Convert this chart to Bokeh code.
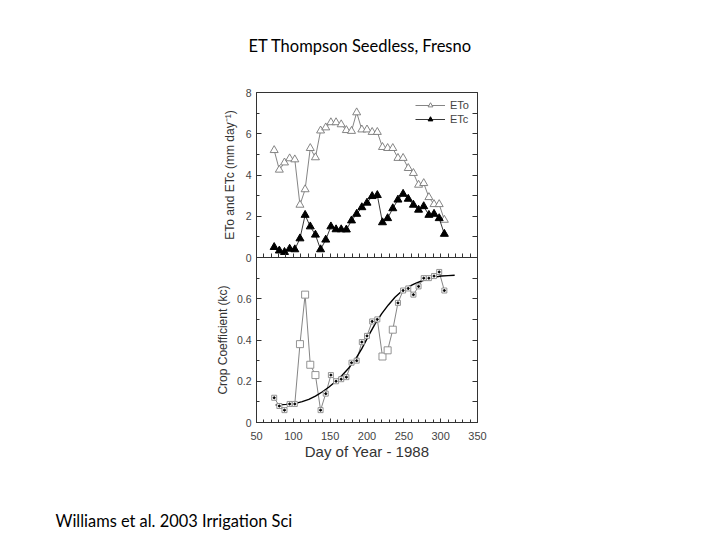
from bokeh.plotting import figure
from bokeh.models import Range1d, LinearAxis, FixedTicker, Title
from bokeh.layouts import column
from bokeh.embed import file_html
from bokeh.resources import INLINE

# ---- data ----
days = [74, 81, 88, 95, 102, 109, 116, 123, 130, 137, 144, 151, 158, 165, 172, 179, 186,
        193, 200, 207, 214, 221, 228, 235, 242, 249, 256, 263, 270, 277, 284, 291, 298, 305]
eto = [5.2, 4.25, 4.6, 4.8, 4.75, 2.55, 3.3, 5.3, 4.85, 6.15, 6.3, 6.55, 6.55, 6.45, 6.17, 6.13, 7.03,
       6.2, 6.2, 6.08, 6.08, 5.35, 5.3, 5.3, 4.82, 4.82, 4.33, 4.09, 3.52, 3.6, 2.92, 2.58, 2.58, 1.82]
etc = [0.5, 0.33, 0.26, 0.42, 0.39, 0.92, 2.06, 1.5, 1.1, 0.39, 0.86, 1.5, 1.36, 1.36, 1.35, 1.79, 2.11,
       2.43, 2.65, 2.97, 3.02, 1.7, 1.9, 2.38, 2.8, 3.08, 2.84, 2.55, 2.31, 2.48, 2.06, 2.11, 1.9, 1.14]
kc = [0.12, 0.08, 0.06, 0.09, 0.09, 0.38, 0.62, 0.28, 0.23, 0.06, 0.14, 0.23, 0.2, 0.21, 0.22, 0.29, 0.3,
      0.39, 0.42, 0.49, 0.5, 0.32, 0.35, 0.45, 0.58, 0.64, 0.65, 0.62, 0.66, 0.7, 0.7, 0.71, 0.73, 0.64]
outlier_idx = [5, 6, 7, 8, 21, 22, 23]

curve_day = [76, 90, 103, 112, 121, 130, 139, 148, 157, 166, 175, 184, 193, 202, 211, 220, 229,
             238, 247, 256, 265, 274, 283, 292, 301, 310, 319]
curve_kc = [0.085, 0.088, 0.093, 0.101, 0.112, 0.128, 0.148, 0.171, 0.198, 0.228, 0.263, 0.305, 0.358,
            0.42, 0.478, 0.528, 0.57, 0.607, 0.636, 0.657, 0.673, 0.686, 0.697, 0.705, 0.71, 0.712, 0.714]

x_ticks = [50, 100, 150, 200, 250, 300, 350]
x_minor = [60, 70, 80, 90, 110, 120, 130, 140, 160, 170, 180, 190, 210, 220, 230, 240,
           260, 270, 280, 290, 310, 320, 330, 340]
top_y_ticks = [0, 2, 4, 6, 8]
top_y_minor = [1, 3, 5, 7]
bot_y_ticks = [0, 0.2, 0.4, 0.6]
bot_y_minor = [0.1, 0.3, 0.5, 0.7]

title_text = "ET Thompson Seedless, Fresno"
footer_text = "Williams et al. 2003 Irrigation Sci"

FONT = "Liberation Sans"
SLIDE_FONT = "Lato"
W = 712
AX = "#333333"


def style_axis(ax):
    ax.major_tick_in = 5
    ax.major_tick_out = 0
    ax.minor_tick_in = 3
    ax.minor_tick_out = 0
    ax.axis_line_color = AX
    ax.major_tick_line_color = AX
    ax.minor_tick_line_color = AX
    ax.major_label_text_font = FONT
    ax.major_label_text_color = "#444444"
    ax.major_label_text_font_size = "10.5px"
    ax.major_label_standoff = 5
    ax.axis_label_text_font = FONT
    ax.axis_label_text_font_style = "normal"
    ax.axis_label_text_color = "#333333"


def bare_axis(ax, length=4):
    # axis that only shows tick marks (all as minor ticks, so no labels)
    ax.major_tick_in = 0
    ax.major_tick_out = 0
    ax.minor_tick_in = length
    ax.minor_tick_out = 0
    ax.axis_line_color = AX
    ax.minor_tick_line_color = AX
    ax.major_label_standoff = 0


# ---------------- top panel ----------------
top = figure(width=W, height=265, x_range=Range1d(50, 350), y_range=Range1d(0, 8),
             output_backend="svg", toolbar_location=None, title=title_text,
             min_border_left=256, min_border_right=235, min_border_top=92, min_border_bottom=8)
top.title.align = "left"
top.title.offset = -8
top.title.vertical_align = "top"
top.title.standoff = 70
top.title.text_font = SLIDE_FONT
top.title.text_font_size = "16.5px"
top.title.text_font_style = "normal"
top.title.text_color = "black"

top.xgrid.visible = False
top.ygrid.visible = False
top.outline_line_color = AX
top.outline_line_width = 1

top.xaxis.ticker = FixedTicker(ticks=[], minor_ticks=x_ticks + x_minor)
bare_axis(top.xaxis[0], 4)
top.yaxis.ticker = FixedTicker(ticks=top_y_ticks, minor_ticks=top_y_minor)
style_axis(top.yaxis[0])
top.yaxis.axis_label = "ETo and ETc (mm day\u207b\u00b9)"
top.yaxis.axis_label_text_font_size = "12px"
top.yaxis.axis_label_standoff = 6

r_top = LinearAxis(ticker=FixedTicker(ticks=[], minor_ticks=top_y_ticks + top_y_minor))
bare_axis(r_top, 5)
top.add_layout(r_top, "right")

top.line(days, eto, line_color="#777777", line_width=0.9, legend_label="ETo")
top.scatter(days, eto, marker="triangle", size=8, fill_color="white", line_color="#777777",
            line_width=0.9, legend_label="ETo")
top.line(days, etc, line_color="#222222", line_width=0.9, legend_label="ETc")
top.scatter(days, etc, marker="triangle", size=8, fill_color="black", line_color="black",
            legend_label="ETc")

lg = top.legend[0]
lg.location = "top_right"
lg.background_fill_alpha = 0
lg.border_line_alpha = 0
lg.label_text_font = FONT
lg.label_text_font_size = "11px"
lg.label_text_color = "#444444"
lg.glyph_width = 30
lg.glyph_height = 12
lg.spacing = 2
lg.padding = 3
lg.margin = 4

# ---------------- bottom panel ----------------
bot = figure(width=W, height=243, x_range=top.x_range, y_range=Range1d(0, 0.8),
             output_backend="svg", toolbar_location=None,
             min_border_left=256, min_border_right=235, min_border_top=0, min_border_bottom=78,
             margin=(-8, 0, 0, 0))
bot.border_fill_alpha = 0
bot.background_fill_alpha = 0
bot.xgrid.visible = False
bot.ygrid.visible = False
bot.outline_line_color = AX
bot.outline_line_width = 1

bot.xaxis.ticker = FixedTicker(ticks=x_ticks, minor_ticks=x_minor)
style_axis(bot.xaxis[0])
bot.xaxis.major_tick_in = 4
bot.xaxis.major_label_text_font_size = "11px"
bot.xaxis.major_label_standoff = 9
bot.xaxis.axis_label = "Day of Year - 1988"
bot.xaxis.axis_label_text_font_size = "15px"
bot.xaxis.axis_label_standoff = 0

bot.yaxis.ticker = FixedTicker(ticks=bot_y_ticks, minor_ticks=bot_y_minor)
style_axis(bot.yaxis[0])
bot.yaxis.axis_label = "Crop Coefficient (kc)"
bot.yaxis.axis_label_text_font_size = "12px"
bot.yaxis.axis_label_standoff = 4

r_bot = LinearAxis(ticker=FixedTicker(ticks=[], minor_ticks=bot_y_ticks + bot_y_minor))
bare_axis(r_bot, 5)
bot.add_layout(r_bot, "right")

bot.line(days, kc, line_color="#777777", line_width=0.9)
bot.line(curve_day, curve_kc, line_color="black", line_width=1.4)
small_idx = [i for i in range(len(days)) if i not in outlier_idx]
bot.scatter([days[i] for i in small_idx], [kc[i] for i in small_idx], marker="square", size=5,
            fill_color="white", line_color="#888888", line_width=0.9)
bot.scatter([days[i] for i in outlier_idx], [kc[i] for i in outlier_idx], marker="square", size=7,
            fill_color="white", line_color="#888888", line_width=0.9)
bot.scatter([days[i] for i in small_idx], [kc[i] for i in small_idx], marker="circle", size=2,
            fill_color="black", line_color="black")

# ---------------- footer strip (slide caption) ----------------
foot = figure(width=W, height=38, x_range=Range1d(0, 1), y_range=Range1d(0, 1),
              output_backend="svg", toolbar_location=None,
              x_axis_location=None, y_axis_location=None,
              min_border_left=256, min_border_right=235, min_border_top=29, min_border_bottom=0)
foot.xgrid.visible = False
foot.ygrid.visible = False
foot.outline_line_color = None
foot.add_layout(Title(text=footer_text, align="left", offset=-201, standoff=0,
                      vertical_align="bottom", text_font=SLIDE_FONT, text_font_size="16.4px",
                      text_font_style="normal", text_color="black"), "above")

p = column(top, bot, foot, spacing=0)
open("out.html", "w").write(file_html(p, INLINE))
